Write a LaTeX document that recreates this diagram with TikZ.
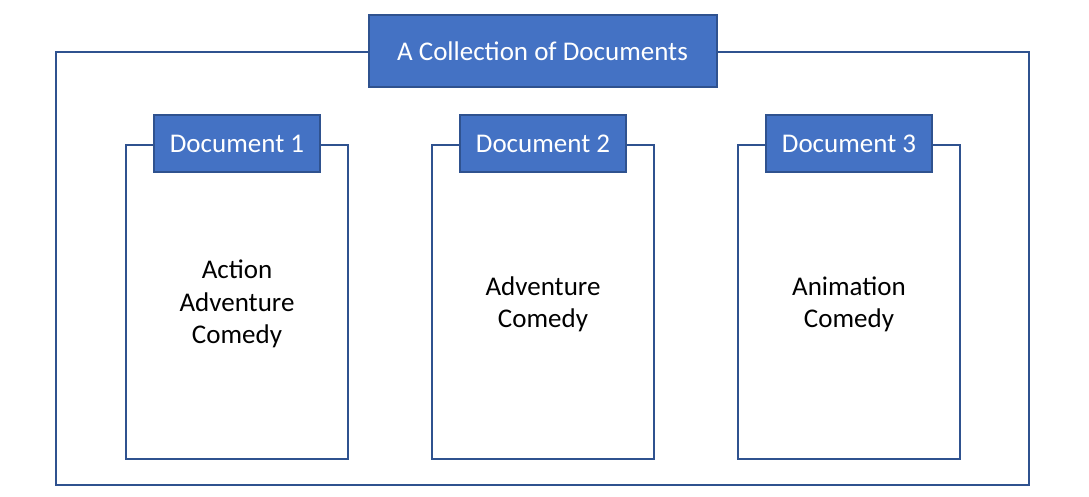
\documentclass[tikz,border=0pt]{standalone}
\usepackage{fontspec}
\setmainfont{Carlito}
\usetikzlibrary{positioning}
\definecolor{boxfill}{HTML}{4472C4}
\definecolor{boxline}{HTML}{2F528F}

\begin{document}
\begin{tikzpicture}
                [
                x=1pt,y=-1pt,
                frame/.style={draw=boxline,line width=2pt,minimum width=222pt,minimum height=314pt,align=center,text depth=0pt,font=\fontsize{27}{32.5}\selectfont},
                header/.style={draw=boxline,fill=boxfill,line width=2pt,text=white,minimum width=166pt,minimum height=57pt,font=\fontsize{27}{32.5}\selectfont}
                ]
            \useasboundingbox (0,0) rectangle (1089,497);
            \node[draw=boxline,line width=2pt,minimum width=973pt,minimum height=433pt] (collection) at (542.5,268.5) {};
            \node[header,minimum width=348pt,minimum height=72pt] (title) at (collection.north) {A Collection of Documents};
            \node[frame] (doc1) at (237,302) {Action\\Adventure\\Comedy};
            \node[frame,right=82pt of doc1] (doc2) {Adventure\\Comedy};
            \node[frame,right=82pt of doc2] (doc3) {Animation\\Comedy};
            \node[header] (head1) at (doc1.north) {Document 1};
            \node[header] (head2) at (doc2.north) {Document 2};
            \node[header] (head3) at (doc3.north) {Document 3};
            \end{tikzpicture}
\end{document}
